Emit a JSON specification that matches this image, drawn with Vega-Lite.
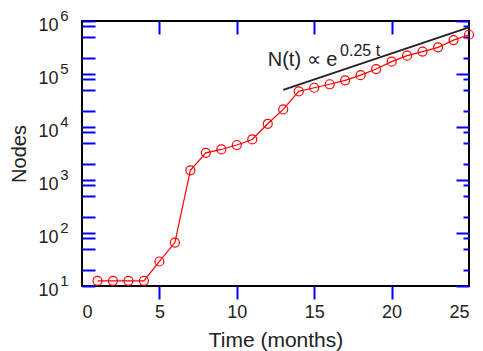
{
  "$schema": "https://vega.github.io/schema/vega-lite/v6.json",
  "autosize": {"type": "none"},
  "padding": {"left": 82, "top": 21, "right": 14, "bottom": 65},
  "width": 387,
  "height": 265,
  "background": "white",
  "config": {
    "view": {"stroke": "#000", "strokeWidth": 2},
    "font": "Liberation Sans",
    "axis": {"grid": false, "domain": false, "tickColor": "#0000ff", "tickWidth": 2, "labelFont": "Liberation Sans", "titleFont": "Liberation Sans", "labelColor": "#222", "titleColor": "#222", "titleFontWeight": "normal"}
  },
  "datasets": {
    "nodes": [
      {"t": 1, "v": 12.5}, {"t": 2, "v": 12.5}, {"t": 3, "v": 12.5}, {"t": 4, "v": 12.5},
      {"t": 5, "v": 29}, {"t": 6, "v": 66}, {"t": 7, "v": 1520}, {"t": 8, "v": 3250},
      {"t": 9, "v": 3770}, {"t": 10, "v": 4570}, {"t": 11, "v": 5820}, {"t": 12, "v": 11500},
      {"t": 13, "v": 21500}, {"t": 14, "v": 47000}, {"t": 15, "v": 55000}, {"t": 16, "v": 64000},
      {"t": 17, "v": 76000}, {"t": 18, "v": 95000}, {"t": 19, "v": 124000}, {"t": 20, "v": 171000},
      {"t": 21, "v": 222000}, {"t": 22, "v": 265000}, {"t": 23, "v": 318000}, {"t": 24, "v": 436000},
      {"t": 25, "v": 550000}
    ],
    "fit": [{"t": 13, "v": 50000}, {"t": 25, "v": 760000}],
    "main": [{"t": 12.0, "v": 142000, "label": "N(t) ∝ e"}],
    "sup": [{"t": 16.67, "v": 220000, "label": "0.25 t"}]
  },
  "layer": [
    {
      "data": {"name": "nodes"},
      "mark": {"type": "line", "color": "#ff0000", "strokeWidth": 1.2,
        "point": {"filled": false, "stroke": "#ff0000", "strokeWidth": 1.2, "size": 81}},
      "encoding": {
        "x": {"field": "t", "type": "quantitative", "scale": {"domain": [0, 25], "nice": false, "zero": false},
          "axis": {"orient": "bottom", "values": [5, 10, 15, 20], "tickSize": 13, "labels": false, "title": null}},
        "y": {"field": "v", "type": "quantitative", "scale": {"type": "log", "domain": [10, 1000000], "nice": false},
          "axis": {"orient": "left", "values": [10,20,50,80,100,200,500,800,1000,2000,5000,8000,10000,20000,50000,80000,100000,200000,500000,800000,1000000],
            "tickSize": -13,
            "labels": false, "title": null}}
      }
    },
    {
      "data": {"name": "fit"},
      "mark": {"type": "line", "color": "#222", "strokeWidth": 1.8},
      "encoding": {
        "x": {"field": "t", "type": "quantitative", "scale": {"domain": [0, 25], "nice": false, "zero": false},
          "axis": {"orient": "bottom", "values": [0, 5, 10, 15, 20, 25], "ticks": false, "labelPadding": 17, "labelFontSize": 18,
            "title": "Time (months)", "titleFontSize": 21, "titlePadding": 8}},
        "y": {"field": "v", "type": "quantitative", "scale": {"type": "log", "domain": [10, 1000000], "nice": false},
          "axis": {"orient": "left", "values": [10, 100, 1000, 10000, 100000, 1000000], "ticks": false, "labelExpr": "'10'",
            "labelPadding": 24, "labelFontSize": 18, "labelOffset": 4, "title": "Nodes", "titleFontSize": 20, "titlePadding": 8}}
      }
    },
    {
      "data": {"name": "main"},
      "mark": {"type": "text", "align": "left", "baseline": "alphabetic", "fontSize": 20, "color": "#222", "font": "Liberation Sans"},
      "encoding": {
        "x": {"field": "t", "type": "quantitative", "scale": {"domain": [0, 25], "nice": false, "zero": false},
          "axis": {"orient": "top", "values": [5, 10, 15, 20], "tickSize": -13, "labels": false, "title": null}},
        "y": {"field": "v", "type": "quantitative", "scale": {"type": "log", "domain": [10, 1000000], "nice": false},
          "axis": {"orient": "left", "values": [10, 100, 1000, 10000, 100000, 1000000], "ticks": false,
            "labelExpr": "'' + round(log(datum.value) / LN10)", "labelPadding": 14, "labelFontSize": 15, "labelOffset": -6, "title": null}},
        "text": {"field": "label"}
      }
    },
    {
      "data": {"name": "sup"},
      "mark": {"type": "text", "align": "left", "baseline": "alphabetic", "fontSize": 16, "color": "#222", "font": "Liberation Sans"},
      "encoding": {
        "x": {"field": "t", "type": "quantitative", "scale": {"domain": [0, 25], "nice": false, "zero": false}, "axis": null},
        "y": {"field": "v", "type": "quantitative", "scale": {"type": "log", "domain": [10, 1000000], "nice": false},
          "axis": {"orient": "right", "values": [10,20,50,80,100,200,500,800,1000,2000,5000,8000,10000,20000,50000,80000,100000,200000,500000,800000,1000000],
            "tickSize": {"condition": {"test": "indexof([10,100,1000,10000,100000,1000000], datum.value) >= 0", "value": -13}, "value": -6},
            "labels": false, "title": null}},
        "text": {"field": "label"}
      }
    }
  ],
  "resolve": {"scale": {"x": "independent", "y": "independent"}, "axis": {"x": "independent", "y": "independent"}}
}
